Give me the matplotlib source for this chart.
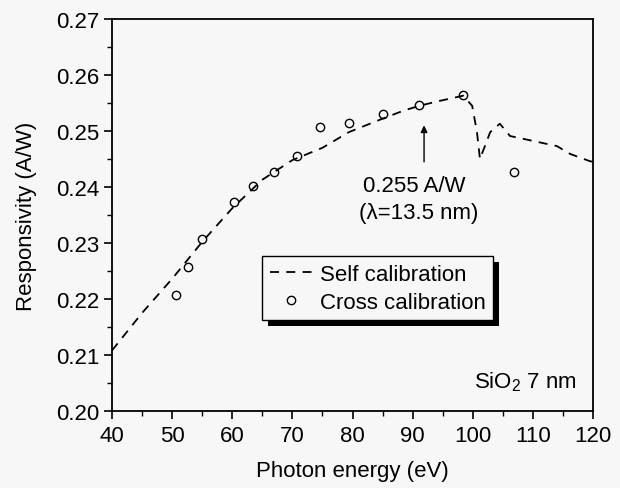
import matplotlib
matplotlib.use("Agg")
import matplotlib.pyplot as plt
from matplotlib.patches import Rectangle
from matplotlib.ticker import MultipleLocator

plt.rcParams['font.family'] = ['Liberation Sans', 'DejaVu Sans']
plt.rcParams['mathtext.fontset'] = 'custom'
plt.rcParams['mathtext.rm'] = 'Liberation Sans'
plt.rcParams['mathtext.it'] = 'Liberation Sans'

# self calibration curve (dashed)
self_e = [40, 45, 50, 55, 60, 65, 70, 75, 79.4, 85, 88.4, 91.1, 94.6, 98.4,
          99.9, 100.7, 101.2, 102.9, 104.5, 106.2, 108.4, 114.0, 116.2, 119.5, 120]
self_r = [0.2108, 0.2175, 0.2236, 0.2302, 0.2362, 0.2413, 0.2448, 0.2470, 0.2498, 0.2522,
          0.2536, 0.2545, 0.2554, 0.2563, 0.2545, 0.2498, 0.2450, 0.2498, 0.2513, 0.2491,
          0.2486, 0.2473, 0.2459, 0.2446, 0.2445]

# cross calibration points
cross_e = [50.6, 52.7, 55.0, 60.3, 63.5, 66.9, 70.8, 74.6, 79.4, 85.1, 91.1, 98.4, 106.9]
cross_r = [0.2208, 0.2257, 0.2307, 0.2374, 0.2401, 0.2426, 0.2455, 0.2508, 0.2514, 0.2530,
           0.2547, 0.2564, 0.2426]

fs = 16

fig = plt.figure(figsize=(6.2, 4.89), dpi=100, facecolor='#f7f7f7')
ax = fig.add_axes([0.1806, 0.1575, 0.7759, 0.8016])
ax.set_facecolor('#f7f7f7')

ax.plot(self_e, self_r, color='black', ls=(0, (5, 4)), lw=1.3, label='Self calibration')
ax.plot(cross_e, cross_r, ls='none', marker='o', ms=6, mfc='none', mec='black',
        mew=1.0, label='Cross calibration')

ax.set_xlim(40, 120)
ax.set_ylim(0.20, 0.27)
ax.xaxis.set_major_locator(MultipleLocator(10))
ax.xaxis.set_minor_locator(MultipleLocator(5))
ax.yaxis.set_major_locator(MultipleLocator(0.01))
ax.yaxis.set_minor_locator(MultipleLocator(0.005))
ax.yaxis.set_major_formatter(matplotlib.ticker.FormatStrFormatter('%.2f'))
ax.tick_params(which='major', direction='out', length=6, width=1.2, labelsize=fs)
ax.tick_params(axis='y', which='major', pad=3)
ax.tick_params(axis='x', which='major', pad=4)
ax.tick_params(which='minor', direction='out', length=3.5, width=1.0)
for s in ax.spines.values():
    s.set_linewidth(1.3)

ax.set_xlabel('Photon energy (eV)', fontsize=fs, labelpad=10)
ax.set_ylabel('Responsivity (A/W)', fontsize=fs, labelpad=14)

ax.annotate('', xy=(91.9, 0.2515), xytext=(91.9, 0.2440),
            arrowprops=dict(arrowstyle='-|>', color='black', lw=1.0,
                            mutation_scale=10))
ax.text(90.2, 0.2402, '0.255 A/W', fontsize=fs, ha='center', va='center')
ax.text(91.0, 0.2355, '(λ=13.5 nm)', fontsize=fs, ha='center', va='center')
ax.text(0.965, 0.075, 'SiO$_2$ 7 nm', transform=ax.transAxes, fontsize=fs,
        ha='right', va='center')

leg = ax.legend(loc='upper left', bbox_to_anchor=(0.312, 0.395), fontsize=fs,
                frameon=True, fancybox=False, edgecolor='black', framealpha=1,
                facecolor='#f7f7f7', handlelength=1.9, handletextpad=0.35,
                borderpad=0.35, labelspacing=0.3, borderaxespad=0)
leg.get_frame().set_linewidth(1.0)
leg.set_zorder(6)

fig.canvas.draw()
bb = leg.get_window_extent()
inv = ax.transAxes.inverted()
(x0, y0), (x1, y1) = inv.transform([[bb.x0 + 6, bb.y0 - 6], [bb.x1 + 6, bb.y1 - 6]])
ax.add_patch(Rectangle((x0, y0), x1 - x0, y1 - y0, transform=ax.transAxes,
                       facecolor='black', edgecolor='none', zorder=5, clip_on=False))

fig.savefig('out.png', dpi=100, facecolor=fig.get_facecolor())
